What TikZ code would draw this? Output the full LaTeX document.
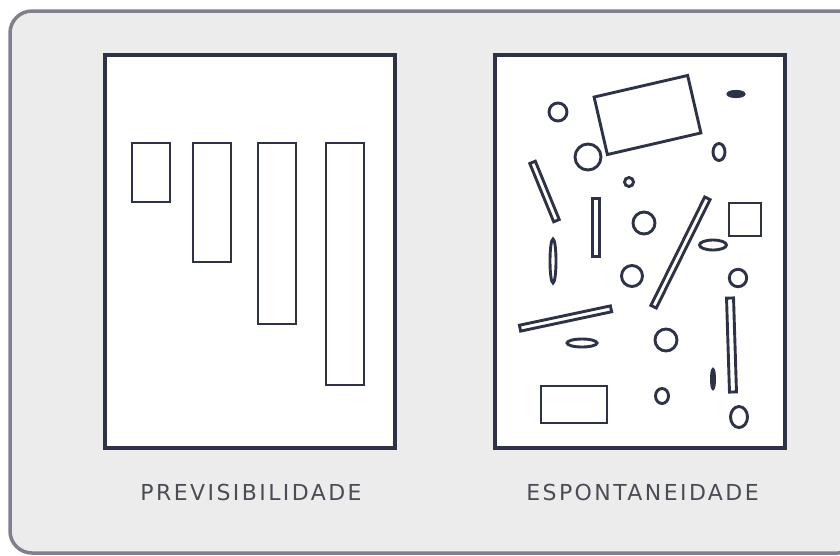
\documentclass[tikz,border=0pt]{standalone}
\usepackage{fontspec}
\newfontfamily\labelfont[LetterSpace=11]{DejaVu Sans}
\begin{document}
\begin{tikzpicture}[x=1pt,y=-1pt]
\definecolor{ink}{HTML}{2D3246}
\definecolor{frame}{HTML}{7E818D}
\definecolor{bgpanel}{HTML}{ECECEC}
\definecolor{txt}{HTML}{4A4D56}
\tikzset{
  outerframe/.style={draw=frame, line width=3.5pt, fill=bgpanel, rounded corners=22pt},
  panel/.style={draw=ink, line width=3.3pt, fill=white},
  shp/.style={draw=ink, line width=2.9pt},
  bar/.style={draw=ink, line width=2.9pt, rectangle, inner sep=0pt, outer sep=0pt},
  lbl/.style={font=\labelfont\fontsize{22}{26}\selectfont, text=txt, inner sep=0pt}
}
\useasboundingbox (0,0) rectangle (840,555);
\clip (0,0) rectangle (840,555);
\fill[white] (0,0) rectangle (840,555);
\draw[outerframe] (10,11) rectangle (860,553);

% left panel
\draw[panel] (105,55) rectangle (395,448);
\draw[shp] (132,143) rectangle (170,202);
\draw[shp] (193,143) rectangle (231,262);
\draw[shp] (258,143) rectangle (296,324);
\draw[shp] (326,143) rectangle (364,385);

% right panel
\draw[panel] (495,55) rectangle (785,448);
\node[bar, minimum width=96pt, minimum height=59pt, rotate=13] (bigrect) at (647.5,115) {};
\draw[shp] (729,203) rectangle (761,236);
\draw[shp] (541,386) rectangle (607,423);

% circles
\draw[shp] (558,112) circle[radius=9];
\draw[shp] (588,157) circle[radius=13];
\draw[shp] (629,182) circle[radius=4.5];
\draw[shp] (644,223) circle[radius=11];
\draw[shp] (632,276) circle[radius=10.5];
\draw[shp] (738,278) circle[radius=8.7];
\draw[shp] (666,340) circle[radius=11];

% ellipses
\draw[shp, fill=ink] (736,94) ellipse[x radius=8, y radius=2.6];
\draw[shp] (719,152) ellipse[x radius=6, y radius=8.5];
\draw[shp] (713,245) ellipse[x radius=13.5, y radius=5];
\draw[shp] (553,261) ellipse[x radius=3, y radius=22];
\draw[shp] (582,343) ellipse[x radius=15, y radius=4];
\draw[shp, fill=ink] (713,379) ellipse[x radius=1.5, y radius=9.5];
\draw[shp] (662,396) ellipse[x radius=6.5, y radius=7.5];
\draw[shp] (739,417) ellipse[x radius=8.5, y radius=10.5];

% bars
\node[bar, minimum width=63pt, minimum height=6pt, rotate=-67.7] (barA) at (544.5,191.5) {};
\node[bar, minimum width=6.5pt, minimum height=58pt] (barE) at (596,227.5) {};
\node[bar, minimum width=121pt, minimum height=6pt, rotate=63.6] (barB) at (680.5,252.5) {};
\node[bar, minimum width=93pt, minimum height=6pt, rotate=12] (barC) at (565.5,318.5) {};
\node[bar, minimum width=94pt, minimum height=7pt, rotate=91.8] (barD) at (731.5,345) {};

% labels
\node[lbl] (prev) at (251,492) {PREVISIBILIDADE};
\node[lbl] (espo) at (642.5,492) {ESPONTANEIDADE};
\end{tikzpicture}
\end{document}
